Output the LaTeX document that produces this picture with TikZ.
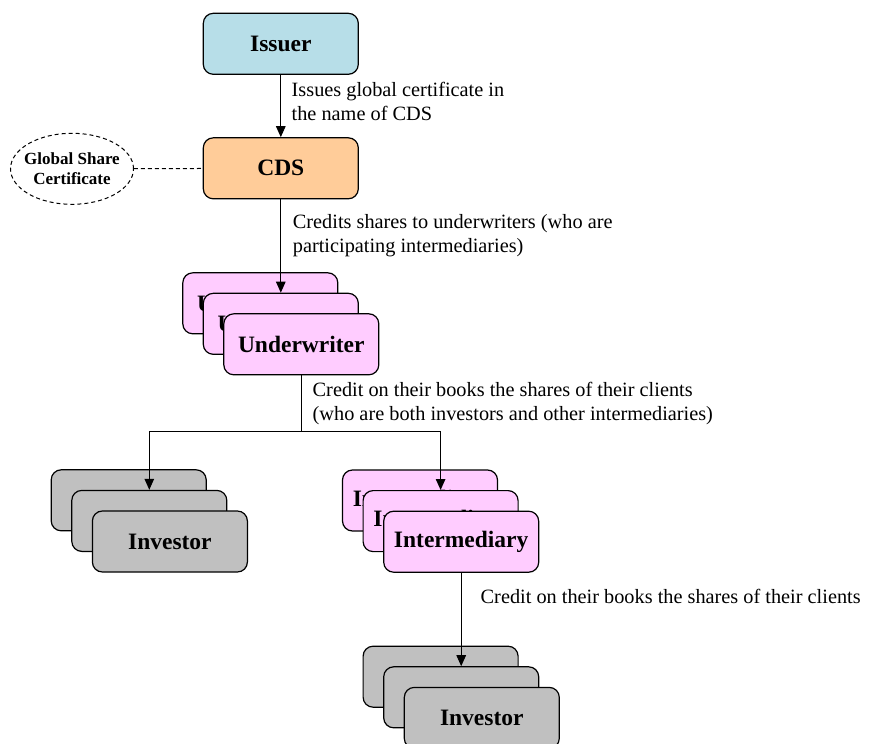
\documentclass[tikz,border=0pt]{standalone}
\usepackage{fontspec}
\setmainfont{Liberation Serif}
\usetikzlibrary{positioning, shapes, arrows.meta}

\definecolor{issuerblue}{HTML}{B7DEE8}
\definecolor{cdsorange}{HTML}{FFCC99}
\definecolor{interpink}{HTML}{FFCCFF}
\definecolor{investgrey}{HTML}{C0C0C0}

\tikzset{
  party/.style={draw, line width=1.2pt, rounded corners=10pt, minimum width=155pt,
    minimum height=61pt, font=\fontsize{23.5}{28}\selectfont\bfseries},
  note/.style={anchor=base west, align=left, inner sep=0pt, font=\fontsize{20.3}{24}\selectfont},
  flow/.style={line width=1.2pt, -{Triangle[length=11pt, width=9.5pt]}},
  link/.style={line width=1pt, dash pattern=on 4pt off 3pt},
}

\begin{document}
\begin{tikzpicture}[x=1pt, y=-1pt]
\useasboundingbox (0,0) rectangle (870,744);

\node (issuer) [party, fill=issuerblue] at (280.8,43.8) {Issuer};
\node (cds) [party, fill=cdsorange] at (280.8,168.3) {CDS};
\node (cert) [ellipse, draw, link, minimum width=123pt, minimum height=71pt,
  inner xsep=-6pt, inner ysep=4pt, align=center,
  font=\fontsize{17}{19.5}\selectfont\bfseries] at (72,168.8) {Global Share\\Certificate};

% underwriters
\node (uw1) [party, fill=interpink] at (260.3,303.3) {Underwriter};
\node (uw2) [party, fill=interpink] at ([shift={(20.5,20.5)}]uw1.center) {Underwriter};
\node (uw3) [party, fill=interpink] at ([shift={(20.5,20.5)}]uw2.center) {Underwriter};

% investors and intermediaries
\node (inv1) [party, fill=investgrey] at (128.7,500.3) {Investor};
\node (inv2) [party, fill=investgrey] at ([shift={(20.6,20.6)}]inv1.center) {Investor};
\node (inv3) [party, fill=investgrey] at ([shift={(20.6,20.6)}]inv2.center) {Investor};

\node (im1) [party, fill=interpink] at (420,500.5) {Intermediary};
\node (im2) [party, fill=interpink] at ([shift={(20.6,20.6)}]im1.center) {Intermediary};
\node (im3) [party, fill=interpink] at ([shift={(20.6,20.6)}]im2.center) {Intermediary};

\node (binv1) [party, fill=investgrey] at (440.6,676.7) {Investor};
\node (binv2) [party, fill=investgrey] at ([shift={(20.6,20.6)}]binv1.center) {Investor};
\node (binv3) [party, fill=investgrey] at ([shift={(20.6,20.6)}]binv2.center) {Investor};

\coordinate (split) at (301.3,431.7);

% connectors
\draw [link] (cert) -- (cds);
\draw [flow] (issuer) -- (cds);
\draw [flow] (cds) -- (uw2);
\draw [line width=1.2pt] (uw3.south) -- (split);
\draw [flow] (split) -| (inv2.north);
\draw [flow] (split) -| (im2.north);
\draw [flow] (im3.south) -- (binv2.north);

% labels (base = last line)
\node (issuetext) [note] at (291.5,120.7) {Issues global certificate in\\the name of CDS};
\node (credittext) [note] at (292.7,252.3) {Credits shares to underwriters (who are\\participating intermediaries)};
\node (bookstext) [note] at (312.5,420.5) {Credit on their books the shares of their clients\\(who are both investors and other intermediaries)};
\node (clienttext) [note] at (480.5,603) {Credit on their books the shares of their clients};
\end{tikzpicture}
\end{document}
